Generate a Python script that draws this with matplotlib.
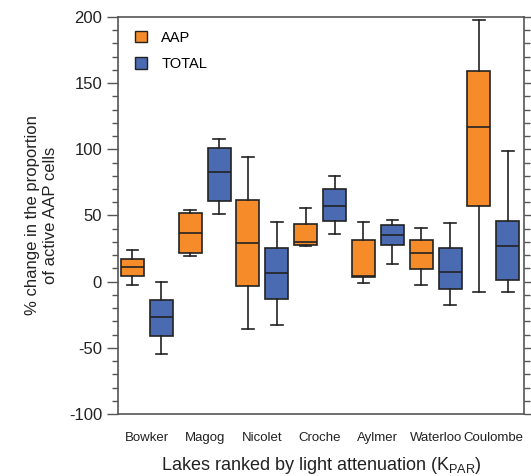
import numpy as np
import matplotlib.pyplot as plt
from matplotlib.patches import Patch
from matplotlib.ticker import MultipleLocator

plt.rcParams['font.family'] = ['Liberation Sans', 'DejaVu Sans']
plt.rcParams['axes.unicode_minus'] = False

# lakes ranked by light attenuation
lakes = ['Bowker', 'Magog', 'Nicolet', 'Croche', 'Aylmer', 'Waterloo', 'Coulombe']

# box stats: whisker low, q1, median, q3, whisker high
aap_low = [-2.5, 19.7, -35.8, 27.2, -1.2, -2.5, -8.0]
aap_q1 = [4.3, 21.5, -3.5, 27.7, 3.8, 9.4, 57.2]
aap_med = [11.1, 36.6, 29.0, 29.8, 4.3, 21.5, 116.7]
aap_q3 = [17.4, 52.2, 61.8, 43.4, 31.7, 31.3, 159.0]
aap_high = [23.9, 54.2, 94.5, 55.5, 44.9, 40.6, 197.8]

tot_low = [-54.4, 51.2, -32.5, 36.1, 13.4, -17.6, -7.6]
tot_q1 = [-40.8, 61.2, -13.1, 45.9, 27.5, -5.3, 1.5]
tot_med = [-26.9, 83.1, 6.3, 57.2, 35.1, 7.3, 27.0]
tot_q3 = [-13.6, 101.3, 25.7, 69.8, 42.9, 25.7, 45.9]
tot_high = [0.0, 107.6, 45.4, 79.9, 46.6, 44.1, 98.8]

orange = '#F68B2A'
blue = '#4A6AB2'
edge = '#222222'


def stats(low, q1, med, q3, high):
    out = []
    for i in range(len(low)):
        out.append({'whislo': low[i], 'q1': q1[i], 'med': med[i],
                    'q3': q3[i], 'whishi': high[i], 'fliers': []})
    return out


fig = plt.figure(figsize=(5.31, 4.76), dpi=100)
ax = fig.add_axes([0.2222, 0.1303, 0.7646, 0.834])

x = np.arange(1, len(lakes) + 1)
line = dict(color=edge, linewidth=1.2)
for data, off, col in [(stats(aap_low, aap_q1, aap_med, aap_q3, aap_high), -0.25, orange),
                       (stats(tot_low, tot_q1, tot_med, tot_q3, tot_high), 0.25, blue)]:
    ax.bxp(data, positions=x + off, widths=0.4, patch_artist=True,
           showfliers=False,
           boxprops=dict(facecolor=col, edgecolor=edge, linewidth=1.2),
           medianprops=line, whiskerprops=line, capprops=line)

ax.set_xlim(0.5, 7.53)
ax.set_ylim(-100, 200)
ax.set_xticks(x)
ax.set_xticklabels(lakes, fontsize=9.5, color='#222222')
ax.tick_params(axis='x', length=0, pad=13)
ax.set_yticks(np.arange(-100, 201, 50))
ax.yaxis.set_minor_locator(MultipleLocator(10))
ax.tick_params(axis='y', which='major', length=8, width=1, labelsize=12,
               right=True, color='#555555', labelcolor='#222222')
ax.tick_params(axis='y', which='minor', length=4, width=1, right=True,
               color='#555555')
for s in ax.spines.values():
    s.set_color('#555555')
    s.set_linewidth(1.2)

ax.set_ylabel('% change in the proportion\nof active AAP cells', fontsize=12,
              color='#222222', labelpad=8, linespacing=1.25)
ax.set_xlabel('Lakes ranked by light attenuation (K$_{\\mathregular{PAR}}$)',
              fontsize=13, color='#222222', labelpad=8)

handles = [Patch(facecolor=orange, edgecolor=edge, label='AAP'),
           Patch(facecolor=blue, edgecolor=edge, label='TOTAL')]
ax.legend(handles=handles, loc='upper left', bbox_to_anchor=(0.013, 0.995),
          frameon=False, fontsize=10.5,
          handlelength=0.8, handleheight=0.8, labelspacing=0.85,
          borderaxespad=0.4, handletextpad=1.0)

plt.savefig('out.png', dpi=100)
